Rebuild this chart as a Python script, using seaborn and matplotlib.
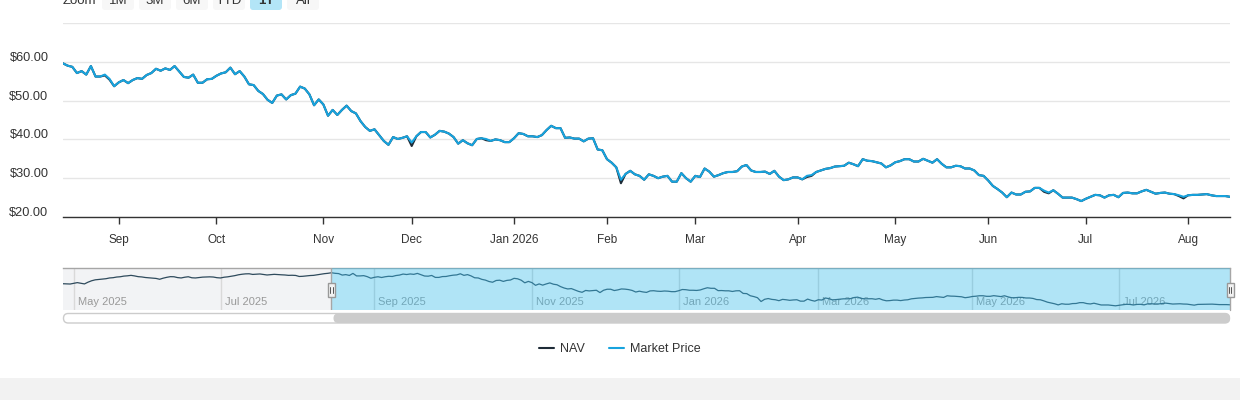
import numpy as np
import pandas as pd
import matplotlib
matplotlib.use('Agg')
import matplotlib.pyplot as plt
import matplotlib.patches as mpatches
import matplotlib.transforms as mtransforms
import seaborn as sns

# --- データ ---
# 取引所の休日（営業日の並びを作るため）
holidays = ['2025-05-26', '2025-06-19', '2025-07-04', '2025-09-01', '2025-11-27',
            '2025-12-25', '2026-01-01', '2026-01-19', '2026-02-16', '2026-04-03',
            '2026-05-25', '2026-06-19', '2026-07-03']
end_date = '2026-08-14'

# ナビゲーターにだけ出る期間 (2025-04-28 .. 2025-08-13) の NAV
nav_early = [47.8, 47.6, 47.5, 48.2, 49.0, 48.3, 47.6, 49.5, 51.0, 52.0,
             52.4, 52.8, 53.2, 54.0, 54.3, 55.0, 55.3, 56.0, 56.3, 56.8,
             56.2, 55.4, 55.1, 54.5, 54.2, 53.8, 53.5, 52.6, 53.8, 54.7,
             55.4, 55.3, 54.4, 54.0, 54.8, 55.3, 54.2, 54.0, 54.5, 54.9,
             55.0, 55.2, 55.0, 54.3, 54.0, 54.8, 55.2, 55.8, 56.5, 57.4,
             58.0, 58.4, 58.5, 57.8, 58.0, 58.3, 57.8, 57.2, 57.5, 57.9,
             57.6, 57.4, 57.2, 56.8, 56.9, 56.7, 55.6, 55.8, 56.2, 56.6,
             56.8, 57.4, 58.1, 58.6, 59.0]

# 表示期間 (1Y: 2025-08-14 .. 2026-08-14)
market_price = [
    59.6, 59.0, 58.7, 57.1, 57.6, 56.7, 58.9, 56.2, 56.2, 56.7,
    55.6, 53.7, 54.7, 55.3, 54.5, 55.3, 55.8, 55.6, 56.6, 57.1,
    58.2, 57.7, 58.3, 57.9, 58.9, 57.5, 56.1, 55.9, 56.7, 54.6,
    54.6, 55.5, 55.6, 56.4, 57.0, 57.3, 58.5, 56.8, 57.6, 56.2,
    54.2, 54.0, 52.5, 51.7, 50.2, 49.4, 51.3, 51.6, 50.3, 51.4,
    51.8, 53.6, 53.1, 51.6, 48.8, 50.3, 49.0, 46.1, 47.6, 46.3,
    47.6, 48.7, 47.3, 46.7,
    44.7, 43.2, 42.2, 42.6, 41.1, 39.6, 38.6, 40.6, 40.1, 40.4,
    40.8, 39.2, 40.8, 41.9, 41.9, 40.5, 41.2, 42.2, 42.0, 41.5,
    40.6, 38.9, 39.8, 39.0, 38.5, 40.1, 40.3, 40.1, 39.6, 40.0,
    39.8, 39.3, 39.3, 40.3, 41.6, 41.4, 40.8, 40.8, 40.6, 41.1,
    42.4, 43.5, 42.9, 42.9, 40.4, 40.5, 40.2, 40.2, 39.5, 40.2,
    40.3, 37.4, 37.2, 34.9, 34.0, 32.8, 29.6, 31.1, 31.9, 31.0,
    30.6, 29.6, 31.0, 30.6,
    30.0, 30.4, 30.6, 29.1, 29.1, 31.3, 30.0, 29.1, 30.6, 30.3,
    32.5, 31.7, 30.4, 30.8, 31.3, 31.6, 31.6, 31.8, 33.0, 33.4,
    32.0, 31.6, 31.6, 31.7, 31.1, 31.9, 30.4, 29.5, 29.7, 30.2,
    30.2, 29.7, 30.6, 30.8, 31.6, 32.0, 32.4, 32.6, 33.0, 33.1,
    33.2, 34.0, 33.6, 33.1, 34.9, 34.5, 34.4, 34.1, 33.8, 32.8,
    33.3, 34.1, 34.4, 34.9, 34.9, 34.3, 34.3, 35.0, 34.5, 34.0,
    34.9, 33.7, 32.8,
    32.8, 33.2, 33.1, 32.5, 32.5, 32.0, 30.8, 30.6, 29.4, 28.0,
    27.2, 26.3, 25.1, 26.3, 25.8, 25.8, 26.5, 26.6, 27.5, 27.5,
    26.8, 26.3, 26.9, 26.0, 25.0, 25.0, 25.0, 24.6, 24.1, 24.7,
    25.2, 25.7, 25.6, 25.0, 25.6, 25.7, 25.1, 26.2, 26.3, 26.1,
    26.1, 26.6, 27.0, 26.5, 26.0, 26.2, 26.3, 26.0, 25.9, 25.6,
    25.2, 25.6, 25.7, 25.7, 25.8, 25.9, 25.6, 25.4, 25.4, 25.4,
    25.2]

nav = [
    59.6, 59.0, 58.7, 57.1, 57.6, 56.7, 58.9, 56.2, 56.2, 56.5,
    55.4, 53.7, 54.7, 55.3, 54.5, 55.3, 55.8, 55.6, 56.6, 57.1,
    58.2, 57.7, 58.3, 57.9, 58.9, 57.5, 56.1, 55.9, 56.7, 54.6,
    54.6, 55.5, 55.6, 56.4, 57.0, 57.3, 58.5, 56.8, 57.6, 56.2,
    54.2, 54.0, 52.5, 51.7, 50.2, 49.4, 51.3, 51.6, 50.3, 51.4,
    51.8, 53.6, 53.1, 51.6, 48.8, 50.3, 49.0, 46.1, 47.6, 46.3,
    47.6, 48.7, 47.3, 46.7,
    44.7, 43.2, 42.2, 42.6, 41.1, 39.6, 38.6, 40.6, 40.1, 40.4,
    40.8, 38.3, 40.8, 41.9, 41.9, 40.5, 41.2, 42.2, 42.0, 41.5,
    40.6, 38.9, 39.8, 39.0, 38.5, 40.1, 40.3, 39.8, 39.6, 40.0,
    39.8, 39.3, 39.3, 40.3, 41.6, 41.4, 40.8, 40.8, 40.6, 41.1,
    42.4, 43.5, 42.9, 42.9, 40.4, 40.5, 40.2, 40.2, 39.5, 40.2,
    40.3, 37.4, 37.2, 34.9, 34.0, 32.8, 28.7, 31.1, 31.9, 31.0,
    30.6, 29.6, 31.0, 30.6,
    30.0, 30.4, 30.6, 29.1, 29.1, 31.3, 30.0, 29.1, 30.6, 30.3,
    32.5, 31.7, 30.4, 30.8, 31.3, 31.6, 31.6, 31.8, 33.0, 33.4,
    32.0, 31.6, 31.6, 31.7, 31.1, 31.9, 30.4, 29.5, 29.7, 30.2,
    30.2, 29.7, 30.3, 30.6, 31.6, 32.0, 32.4, 32.6, 33.0, 33.1,
    33.2, 34.0, 33.6, 33.1, 34.9, 34.5, 34.4, 34.1, 33.8, 32.8,
    33.3, 34.1, 34.4, 34.9, 34.9, 34.3, 34.3, 35.0, 34.5, 34.0,
    34.9, 33.7, 32.8,
    32.8, 33.2, 33.1, 32.5, 32.5, 32.0, 30.8, 30.6, 29.4, 28.0,
    27.2, 26.3, 25.1, 26.3, 25.8, 25.8, 26.5, 26.6, 27.5, 27.5,
    26.5, 26.1, 26.9, 26.0, 25.0, 25.0, 25.0, 24.6, 24.1, 24.7,
    25.2, 25.7, 25.6, 25.0, 25.6, 25.7, 25.1, 26.2, 26.3, 26.1,
    26.1, 26.6, 27.0, 26.5, 26.0, 26.2, 26.3, 26.0, 25.9, 25.4,
    24.8, 25.6, 25.7, 25.7, 25.8, 25.9, 25.6, 25.4, 25.4, 25.4,
    25.2]

y_ticks = [20, 30, 40, 50, 60, 70]
y_labels = ['$20.00', '$30.00', '$40.00', '$50.00', '$60.00', '']
zoom_buttons = ['1M', '3M', '6M', 'YTD', '1Y', 'All']
selected_button = '1Y'

# --- スタイル ---
sns.set_style('white')
plt.rcParams['font.family'] = ['Liberation Sans', 'DejaVu Sans']

W, H = 1240, 400
fig = plt.figure(figsize=(W / 100, H / 100), dpi=100)
PIX = mtransforms.IdentityTransform()


def fx(x):
    return x / W


def fy(y):
    return 1 - y / H


NAV_COLOR = '#1e2b37'
MP_COLOR = '#17a3de'
TEXT = '#333333'

dates = pd.bdate_range(end=end_date, periods=len(nav_early) + len(nav),
                       freq='C', holidays=holidays)
n_early = len(nav_early)
main_dates = dates[n_early:]

df = pd.DataFrame({'idx': np.arange(len(nav)), 'NAV': nav, 'Market Price': market_price})

# --- メインチャート ---
ax = fig.add_axes([fx(63), fy(217), fx(1230) - fx(63), fy(23) - fy(217)])
sns.lineplot(data=df, x='idx', y='NAV', ax=ax, color=NAV_COLOR, linewidth=1.9, label='NAV')
sns.lineplot(data=df, x='idx', y='Market Price', ax=ax, color=MP_COLOR, linewidth=1.9,
             label='Market Price')
handles, labels = ax.get_legend_handles_labels()
ax.get_legend().remove()

ax.set_xlim(0, len(nav) - 1)
ax.set_ylim(20, 70)
ax.set_yticks(y_ticks)
ax.set_yticklabels(y_labels)
ax.grid(axis='y', color='#e6e6e6', linewidth=1)
ax.grid(axis='x', visible=False)
for s in ['top', 'right', 'left']:
    ax.spines[s].set_visible(False)
ax.spines['bottom'].set_color(TEXT)
ax.spines['bottom'].set_linewidth(1)
ax.set_xlabel('')
ax.set_ylabel('')

# 月初の営業日に目盛り
months = main_dates.to_period('M')
tick_pos = [i for i in range(1, len(main_dates)) if months[i] != months[i - 1]]
tick_lab = [main_dates[i].strftime('%b %Y') if main_dates[i].month == 1
            else main_dates[i].strftime('%b') for i in tick_pos]
ax.set_xticks(tick_pos)
ax.set_xticklabels(tick_lab)
ax.tick_params(axis='x', bottom=True, length=5, width=1, color=TEXT, pad=7.5,
               labelsize=8.5, labelcolor=TEXT)
ax.tick_params(axis='y', length=0, pad=10.5, labelsize=9.2, labelcolor=TEXT)
# Y ラベルは目盛り線より少し上
lift = mtransforms.ScaledTranslation(0, 5.5 / 100, fig.dpi_scale_trans)
for lab in ax.get_yticklabels():
    lab.set_transform(lab.get_transform() + lift)

# --- ナビゲーター ---
nav_ax = fig.add_axes([fx(63), fy(310), fx(1230) - fx(63), fy(268) - fy(310)])
full_idx = np.arange(len(dates))
sns.lineplot(x=full_idx, y=nav_early + nav, ax=nav_ax, color='#2e4a5c', linewidth=0.9,
             legend=False)
N = len(dates) - 1
nav_ax.set_xlim(0, N)
nav_ax.set_ylim(19.6, 64.7)
nav_ax.set_xticks([])
nav_ax.set_yticks([])
nav_ax.set_xlabel('')
nav_ax.set_ylabel('')
for s in ['left', 'right', 'bottom']:
    nav_ax.spines[s].set_visible(False)
nav_ax.spines['top'].set_color('#a6a6a6')
nav_ax.spines['top'].set_linewidth(1)
nav_ax.axvspan(0, n_early, color='#f2f3f5', zorder=0, lw=0)

all_months = dates.to_period('M')
trans = mtransforms.blended_transform_factory(nav_ax.transData, nav_ax.transAxes)
lab_trans = mtransforms.offset_copy(trans, fig=fig, x=4, y=0, units='dots')
for i in range(1, len(dates)):
    if all_months[i] != all_months[i - 1] and dates[i].month % 2 == 1:
        nav_ax.axvline(i, color='#d9d9d9', lw=1, zorder=0.5)
        nav_ax.text(i, 0.2, dates[i].strftime('%b %Y'), transform=lab_trans,
                    ha='left', va='center', fontsize=8, color='#999999', zorder=1)

# 選択範囲のマスク
nav_ax.axvspan(n_early, N, color='#3abce9', alpha=0.4, zorder=3, lw=0)
nav_ax.axvline(n_early, color='#a6a6a6', lw=1, zorder=4)
nav_ax.axvline(N, color='#a6a6a6', lw=1, zorder=4, clip_on=False)

# ハンドル
for hi in [n_early, N]:
    cx = nav_ax.transData.transform((hi, 0))[0]
    fig.add_artist(mpatches.Rectangle((cx - 3.5, H - 297), 7, 14, transform=PIX,
                                      facecolor='#f2f2f2', edgecolor='#999999', lw=1, zorder=5))
    for dx in (-1.2, 1.2):
        fig.add_artist(plt.Line2D([cx + dx, cx + dx], [H - 293, H - 287], transform=PIX,
                                  color='#555555', lw=0.7, zorder=6))

# スクロールバー
sel_x = nav_ax.transData.transform((n_early, 0))[0]
fig.add_artist(mpatches.FancyBboxPatch((63.5, H - 323), 1166, 9.5,
                                       boxstyle='round,pad=0,rounding_size=4.7',
                                       transform=PIX, facecolor='white',
                                       edgecolor='#cccccc', lw=1))
fig.add_artist(mpatches.FancyBboxPatch((sel_x + 2, H - 323), 1230 - sel_x - 2, 9.5,
                                       boxstyle='round,pad=0,rounding_size=4.7',
                                       transform=PIX, facecolor='#cccccc',
                                       edgecolor='none'))

# --- ズームボタン（参照と同じく上端で切れている） ---
fig.text(fx(63), fy(4), 'Zoom', ha='left', va='baseline', fontsize=9.5, color=TEXT)
bx = 102
for b in zoom_buttons:
    fc = '#b3e5f7' if b == selected_button else '#f7f7f7'
    fig.add_artist(mpatches.FancyBboxPatch((bx, H - 10), 32, 30,
                                           boxstyle='round,pad=0,rounding_size=3',
                                           transform=PIX, facecolor=fc, edgecolor='none'))
    fig.text(fx(bx + 16), fy(4), b, ha='center', va='baseline', fontsize=9.5, color=TEXT,
             fontweight='bold' if b == selected_button else 'normal')
    bx += 37

# --- 凡例 ---
for h in handles:
    h.set_linewidth(1.5)
fig.legend(handles, labels, loc='center', bbox_to_anchor=(fx(620), fy(349)), ncol=2,
           frameon=False, fontsize=9, handlelength=1.2, handletextpad=0.5,
           columnspacing=1.9, labelcolor=TEXT)

# 下端の灰色の帯
fig.add_artist(mpatches.Rectangle((0, 0), 1, 22 / H, transform=fig.transFigure,
                                  facecolor='#f2f2f2', edgecolor='none', zorder=0))

fig.savefig('out.png', dpi=100)
plt.close(fig)
